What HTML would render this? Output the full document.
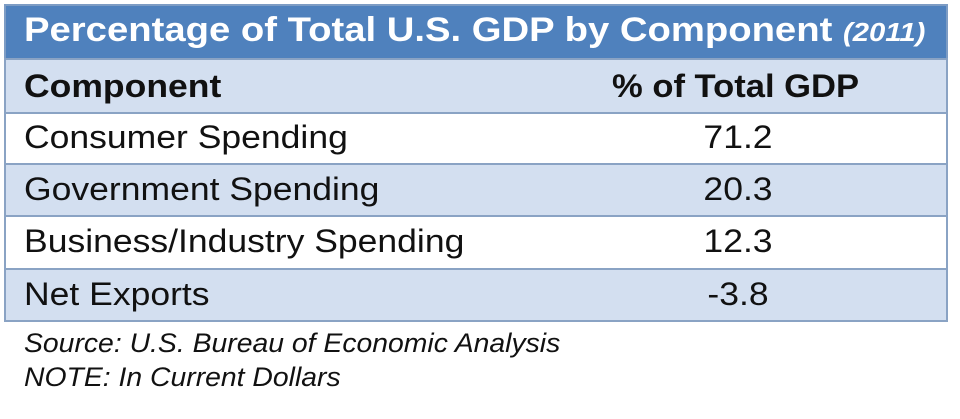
<!DOCTYPE html>
<html><head><meta charset="utf-8"><style>
body{margin:0;width:960px;height:419px;background:#fff;position:relative;overflow:hidden;font-family:"Liberation Sans",sans-serif;}
.r{position:absolute;left:4px;width:944px;border:2px solid #8aa3c4;border-bottom:none;box-sizing:border-box;}
.t{position:absolute;white-space:nowrap;line-height:1;transform-origin:0 0;transform:scaleX(1.11);}
.c{position:absolute;white-space:nowrap;line-height:1;width:200px;left:638px;text-align:center;font-size:32px;color:#111;transform:scaleX(1.11);}
</style></head><body>
<div class="r" style="top:4px;height:54px;background:#4f81bd;border-color:#7d9cc4"></div>
<div class="r" style="top:58px;height:54px;background:#d3dff0"></div>
<div class="r" style="top:112px;height:51px;background:#fff"></div>
<div class="r" style="top:163px;height:52px;background:#d3dff0"></div>
<div class="r" style="top:215px;height:53px;background:#fff"></div>
<div class="r" style="top:268px;height:54px;background:#d3dff0;border-bottom:2px solid #8aa3c4"></div>

<div class="t" style="left:24px;top:13px;font-size:34px;font-weight:bold;color:#fff;transform:scaleX(1.125)">Percentage of Total U.S. GDP by Component <i style="font-size:26px">(2011)</i></div>
<div class="t" style="left:24px;top:70px;font-size:32px;font-weight:bold;color:#111">Component</div>
<div class="t" style="left:612px;top:70px;font-size:32px;font-weight:bold;color:#111;transform:scaleX(1.08)">% of Total GDP</div>
<div class="t" style="left:24px;top:121px;font-size:32px;color:#111">Consumer Spending</div>
<div class="t" style="left:24px;top:173px;font-size:32px;color:#111">Government Spending</div>
<div class="t" style="left:24px;top:225px;font-size:32px;color:#111">Business/Industry Spending</div>
<div class="t" style="left:24px;top:278px;font-size:32px;color:#111">Net Exports</div>
<div class="c" style="top:121px">71.2</div>
<div class="c" style="top:173px">20.3</div>
<div class="c" style="top:225px">12.3</div>
<div class="c" style="top:278px">-3.8</div>
<div class="t" style="left:24px;top:330px;font-size:27px;font-style:italic;color:#111;transform:scaleX(1.05)">Source: U.S. Bureau of Economic Analysis</div>
<div class="t" style="left:24px;top:364px;font-size:27px;font-style:italic;color:#111;transform:scaleX(1.05)">NOTE: In Current Dollars</div>
</body></html>
